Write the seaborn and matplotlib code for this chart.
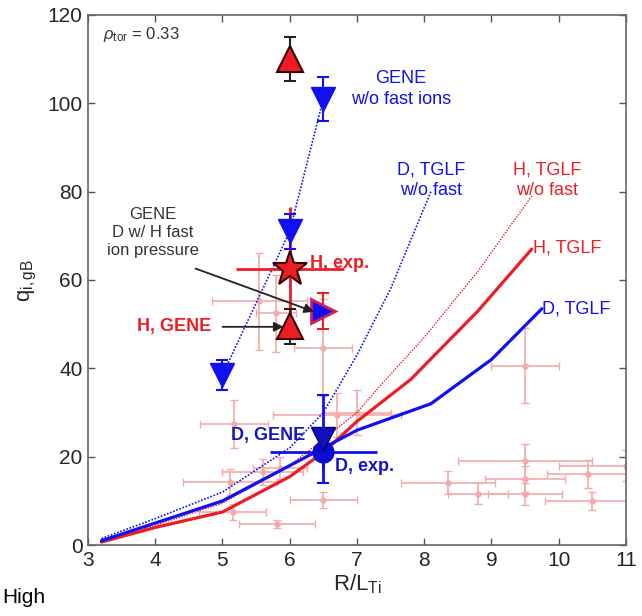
import numpy as np
import pandas as pd
import matplotlib
matplotlib.use("Agg")
import matplotlib.pyplot as plt
import seaborn as sns

# ---------------- data ----------------
# TGLF scans
d_tglf_x = [3.2, 4.0, 5.0, 6.0, 6.5, 7.0, 8.1, 9.0, 9.75]
d_tglf_y = [1.0, 5.0, 10.0, 18.0, 22.0, 26.0, 32.0, 42.0, 53.5]
h_tglf_x = [3.2, 4.0, 5.0, 6.0, 6.5, 7.0, 7.8, 8.8, 9.6]
h_tglf_y = [0.7, 4.0, 7.5, 15.5, 21.0, 28.0, 37.5, 53.0, 67.0]
d_nofast_x = [3.2, 4.0, 5.0, 6.0, 6.5, 7.0, 7.5, 8.1]
d_nofast_y = [1.5, 6.0, 12.0, 22.0, 30.0, 43.0, 58.0, 80.0]
h_nofast_x = [3.2, 4.0, 5.0, 6.0, 6.5, 7.0, 7.4, 8.0, 8.8, 9.6]
h_nofast_y = [1.0, 4.5, 9.5, 18.0, 24.0, 30.0, 37.0, 47.0, 62.0, 79.0]

# GENE w/o fast ions (blue down triangles, dotted connection)
gene_nofast_x = [5.0, 6.0, 6.5]
gene_nofast_y = [38.5, 71.0, 101.0]
gene_nofast_err = [3.5, 4.0, 5.0]

# other GENE / experimental points
h_gene_nofast = (6.0, 110.0, 5.0)      # red triangle, top
h_gene = (6.0, 49.5, 4.0)              # red triangle
h_exp = (6.0, 62.5, 0.8, 14.0)         # red star x, y, xerr, yerr
d_hfast = (6.5, 53.0, 4.0)             # blue right triangle
d_gene = (6.5, 24.0, 10.0)             # blue down triangle
d_exp = (6.5, 21.0, 0.8, 4.0)          # blue circle

# faint database points
db_x = [9.5, 9.5, 9.5, 9.5, 8.35, 8.8, 10.43, 10.5, 11.0, 6.5, 5.55, 5.8,
        5.17, 5.11, 5.15, 5.81, 5.6, 5.85, 6.5, 6.7, 7.0]
db_y = [40.6, 19.0, 15.0, 11.6, 14.1, 11.6, 16.1, 10.0, 18.0, 44.7, 55.2, 52.5,
        27.4, 14.3, 7.5, 4.8, 16.5, 17.5, 10.2, 29.5, 30.0]
db_xerr = [0.51, 1.0, 0.6, 0.55, 0.7, 0.45, 0.6, 0.7, 1.0, 0.43, 0.7, 0.3,
           0.5, 0.7, 0.5, 0.57, 0.6, 0.4, 0.5, 0.95, 0.5]
db_yerr = [8.5, 4.0, 3.0, 2.5, 2.6, 2.4, 3.2, 2.0, 3.5, 11.0, 11.0, 8.7,
           5.5, 3.0, 1.8, 1.0, 3.0, 2.5, 1.8, 5.0, 5.0]

x_ticks = [3, 4, 5, 6, 7, 8, 9, 10, 11]
y_ticks = [0, 20, 40, 60, 80, 100, 120]

# ---------------- style ----------------
sns.set_style("ticks")
plt.rcParams["font.family"] = ["Liberation Sans", "DejaVu Sans"]
plt.rcParams["mathtext.fontset"] = "custom"
plt.rcParams["mathtext.rm"] = "Liberation Sans"
plt.rcParams["mathtext.it"] = "Liberation Sans:italic"

BLUE = "#1010f0"
RED = "#ee1c24"
FAINT = "#f4aaaa"
GREY = "#333333"

fig = plt.figure(figsize=(6.42, 6.16), dpi=100)
ax = fig.add_axes([0.137, 0.115, 0.838, 0.861])

# faint database
ax.errorbar(db_x, db_y, xerr=db_xerr, yerr=db_yerr, fmt="o", ms=3.5,
            color=FAINT, mfc=FAINT, mec=FAINT, ecolor=FAINT, elinewidth=1.2,
            capsize=3, capthick=1.0, zorder=1)

# TGLF lines
sns.lineplot(x=d_nofast_x, y=d_nofast_y, ax=ax, color=BLUE, lw=1.2,
             linestyle=(0, (1, 1)), sort=False, zorder=2)
sns.lineplot(x=h_nofast_x, y=h_nofast_y, ax=ax, color=RED, lw=1.0,
             linestyle=(0, (1, 1)), sort=False, zorder=2)
sns.lineplot(x=h_tglf_x, y=h_tglf_y, ax=ax, color=RED, lw=2.3, sort=False, zorder=3)
sns.lineplot(x=d_tglf_x, y=d_tglf_y, ax=ax, color=BLUE, lw=2.3, sort=False, zorder=3)

# GENE w/o fast connection
sns.lineplot(x=gene_nofast_x, y=gene_nofast_y, ax=ax, color=BLUE, lw=1.2,
             linestyle=(0, (1, 1)), sort=False, zorder=2)

# error bars for markers
ax.errorbar(gene_nofast_x, gene_nofast_y, yerr=gene_nofast_err, fmt="none",
            ecolor=BLUE, elinewidth=1.5, capsize=4, capthick=1.5, zorder=4)
ax.errorbar([h_gene_nofast[0], h_gene[0]], [h_gene_nofast[1], h_gene[1]],
            yerr=[h_gene_nofast[2], h_gene[2]], fmt="none", ecolor="#222222",
            elinewidth=1.5, capsize=4, capthick=1.5, zorder=4)
ax.errorbar([h_exp[0]], [h_exp[1]], xerr=[h_exp[2]], yerr=[h_exp[3]], fmt="none",
            ecolor=RED, elinewidth=2.0, capsize=0, zorder=3)
ax.errorbar([d_hfast[0]], [d_hfast[1]], yerr=[d_hfast[2]], fmt="none",
            ecolor=RED, elinewidth=1.5, capsize=4, capthick=1.5, zorder=4)
ax.errorbar([d_gene[0]], [d_gene[1]], yerr=[d_gene[2]], fmt="none",
            ecolor=BLUE, elinewidth=2.0, capsize=4, capthick=1.5, zorder=4)
ax.errorbar([d_exp[0]], [d_exp[1]], xerr=[d_exp[2]], yerr=[d_exp[3]], fmt="none",
            ecolor=BLUE, elinewidth=2.0, capsize=0, zorder=4)

# markers
ax.plot(gene_nofast_x, gene_nofast_y, "v", ms=17, color=BLUE, mec=BLUE, zorder=5)
ax.plot([h_gene_nofast[0], h_gene[0]], [h_gene_nofast[1], h_gene[1]], "^", ms=19,
        color=RED, mec="#3a0000", mew=1.5, zorder=5)
ax.plot([h_exp[0]], [h_exp[1]], "*", ms=26, color=RED, mec="#3a0000", mew=1.5, zorder=6)
ax.plot([d_hfast[0]], [d_hfast[1]], ">", ms=17, color=BLUE, mec="#d0205a", mew=2, zorder=5)
ax.plot([d_exp[0]], [d_exp[1]], "o", ms=15, color="#0a0ad0", mec="#0a0ad0", zorder=5)
ax.plot([d_gene[0]], [d_gene[1]], "v", ms=17, color="#1010c0", mec="#000080", zorder=6)

# annotations
ax.text(3.22, 115.5, r"$\rho_{\mathrm{tor}}$ = 0.33", fontsize=12, color=GREY,
        ha="left", va="center")
ax.text(7.65, 103.3, "GENE\nw/o fast ions", fontsize=13, color=BLUE,
        ha="center", va="center", linespacing=1.3)
ax.text(8.1, 82.6, "D, TGLF\nw/o fast", fontsize=13, color=BLUE,
        ha="center", va="center", linespacing=1.3)
ax.text(9.83, 82.6, "H, TGLF\nw/o fast", fontsize=13, color=RED,
        ha="center", va="center", linespacing=1.3)
ax.text(9.62, 67.3, "H, TGLF", fontsize=13, color=RED, ha="left", va="center")
ax.text(9.75, 53.5, "D, TGLF", fontsize=13, color=BLUE, ha="left", va="center")
ax.text(3.97, 70.8, "GENE\nD w/ H fast\nion pressure", fontsize=12, color=GREY,
        ha="center", va="center", linespacing=1.25)
ax.annotate("", xy=(6.4, 52.6), xytext=(4.56, 62.8),
            arrowprops=dict(arrowstyle="-|>", color="#222222", lw=1.3,
                            mutation_scale=14), zorder=7)
ax.text(4.84, 49.4, "H, GENE", fontsize=13, color=RED, fontweight="bold",
        ha="right", va="center")
ax.annotate("", xy=(5.95, 49.4), xytext=(4.96, 49.4),
            arrowprops=dict(arrowstyle="-|>", color="#222222", lw=1.3,
                            mutation_scale=14), zorder=7)
ax.text(6.3, 63.8, "H, exp.", fontsize=13, color=RED, fontweight="bold",
        ha="left", va="center")
ax.text(6.23, 24.7, "D, GENE", fontsize=13, color="#1515c8", fontweight="bold",
        ha="right", va="center")
ax.text(6.67, 17.8, "D, exp.", fontsize=13, color="#1515c8", fontweight="bold",
        ha="left", va="center")

# axes formatting
ax.set_xlim(3, 11)
ax.set_ylim(0, 120)
ax.set_xticks(x_ticks)
ax.set_yticks(y_ticks)
ax.set_xticklabels([str(v) for v in x_ticks])
ax.set_yticklabels([str(v) for v in y_ticks])
ax.tick_params(direction="in", top=True, right=True, length=5, width=1,
               labelsize=15, colors="#555555", labelcolor="#262626", pad=4)
for sp in ax.spines.values():
    sp.set_color("#666666")
    sp.set_linewidth(1.2)
ax.set_xlabel(r"$\mathrm{R/L_{Ti}}$", fontsize=16, color="#262626", labelpad=2)
ax.set_ylabel(r"$\mathrm{q_{i,gB}}$", fontsize=16, color="#262626", labelpad=6)

fig.text(0.003, 0.045, "High", fontsize=15, color="black", ha="left", va="top")

fig.savefig("out.png", dpi=100)
